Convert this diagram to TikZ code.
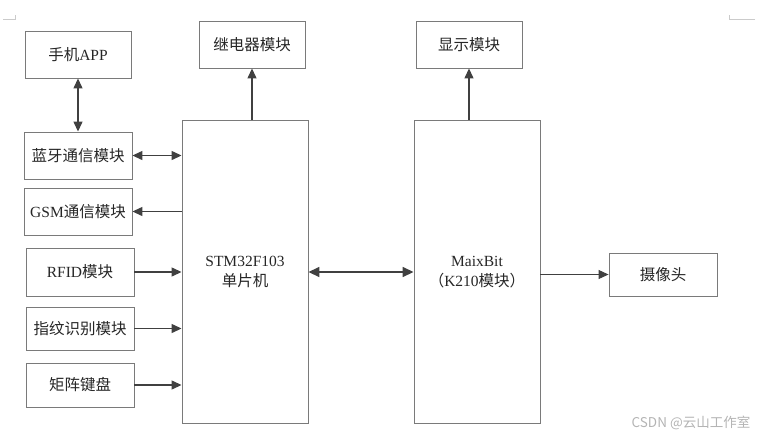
\documentclass[tikz,border=0pt]{standalone}
\usepackage{fontspec}
\setmainfont{Liberation Serif}
\newfontfamily\cjk{Noto Sans CJK SC}
\usetikzlibrary{arrows.meta,shadows}
\definecolor{boxline}{HTML}{7A7A7A}
\definecolor{arrline}{HTML}{404040}
\definecolor{wm}{HTML}{B4B4B4}
\tikzset{
  box/.style={draw=boxline, line width=0.9pt, fill=white, inner sep=0pt, align=center,
    font=\fontsize{15.5}{19}\selectfont, text=black!85,
    drop shadow={shadow xshift=1.2pt, shadow yshift=-1.2pt, fill=black!20, opacity=1}},
  arr/.style={draw=arrline, line width=1.3pt, -{Triangle[length=10pt,width=9pt]}},
  darr/.style={draw=arrline, line width=1.3pt, {Triangle[length=10pt,width=9pt]}-{Triangle[length=10pt,width=9pt]}},
  bigarr/.style={draw=arrline, line width=1.6pt, {Triangle[length=11pt,width=10pt]}-{Triangle[length=11pt,width=10pt]}},
  cornermark/.style={draw=wm!70, line width=0.6pt}
}
\begin{document}
\begin{tikzpicture}[x=1pt,y=-1pt]
\useasboundingbox (0,0) rectangle (779,440);
% page corner marks
\draw[cornermark] (3,19) -- (15,19) -- (15,15);
\draw[cornermark] (755,19) -- (729,19) -- (729,15);

\node[box, minimum width=106pt, minimum height=47pt] (app) at (78,54.5) {{\cjk 手机}APP};
\node[box, minimum width=106pt, minimum height=47pt] (relay) at (252,44.5) {\cjk 继电器模块};
\node[box, minimum width=108pt, minimum height=47pt] (bt) at (78,155.5) {\cjk 蓝牙通信模块};
\node[box, minimum width=108pt, minimum height=47pt] (gsm) at (78,211.5) {GSM{\cjk 通信模块}};
\node[box, minimum width=126pt, minimum height=303pt] (stm) at (245,271.5) {};
\node[font=\fontsize{15.5}{20}\selectfont, align=center, text=black!85] (stmtext) at (245,272) {STM32F103\\{\cjk 单片机}};
\node[box, minimum width=108pt, minimum height=48pt] (rfid) at (80,272) {RFID{\cjk 模块}};
\node[box, minimum width=108pt, minimum height=43pt] (finger) at (80,328.5) {\cjk 指纹识别模块};
\node[box, minimum width=108pt, minimum height=44pt] (keypad) at (80,385) {\cjk 矩阵键盘};
\node[box, minimum width=106pt, minimum height=47pt] (disp) at (469,44.5) {\cjk 显示模块};
\node[box, minimum width=126pt, minimum height=303pt] (maix) at (477,271.5) {};
\node[font=\fontsize{15.5}{20}\selectfont, align=center, text=black!85] (maixtext) at (477,272) {MaixBit\\{\cjk （}K210{\cjk 模块）}};
\node[box, minimum width=108pt, minimum height=43pt] (cam) at (663,274.5) {\cjk 摄像头};

\draw[darr] (app.south) -- (bt.north);
\draw[arr] (stm.north -| relay.south) -- (relay.south);
\draw[arr] (maix.north -| disp.south) -- (disp.south);
\draw[darr] (bt.east) -- (stm.west |- bt.east);
\draw[arr] (stm.west |- gsm.east) -- (gsm.east);
\draw[arr] (rfid.east) -- (stm.west |- rfid.east);
\draw[arr] (finger.east) -- (stm.west |- finger.east);
\draw[arr] (keypad.east) -- (stm.west |- keypad.east);
\draw[bigarr] (stm.east |- 0,272) coordinate (s1) -- (maix.west |- s1);
\draw[arr, line width=1pt] (maix.east |- cam.west) -- (cam.west);

\node[text=wm, font=\cjk\fontsize{13.5}{16}\selectfont, anchor=center] (wmark) at (691,423) {CSDN @云山工作室};
\end{tikzpicture}
\end{document}
